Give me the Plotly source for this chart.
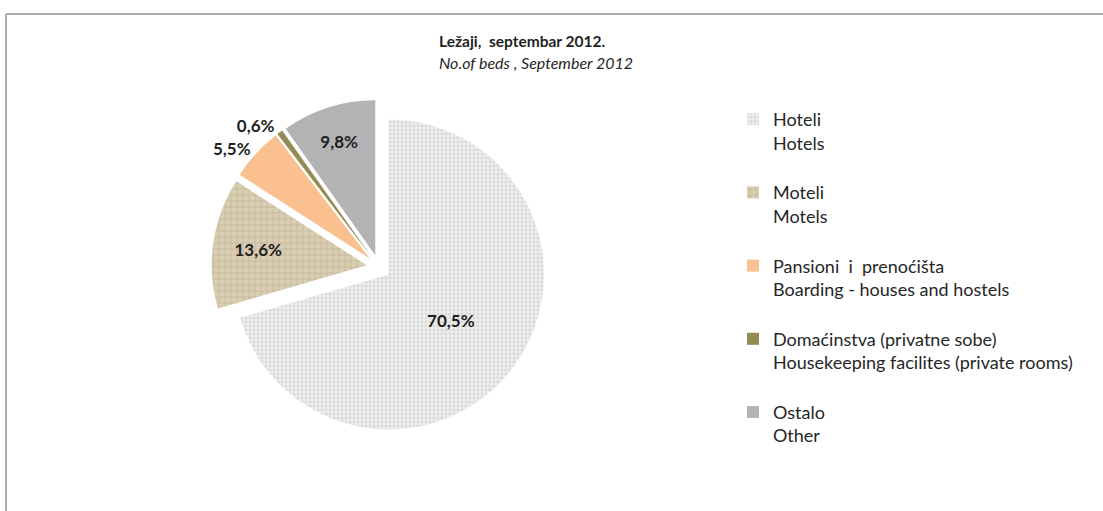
import plotly.graph_objects as go

labels_sr = ["Hoteli", "Moteli", "Pansioni  i  prenoćišta", "Domaćinstva (privatne sobe)", "Ostalo"]
labels_en = ["Hotels", "Motels", "Boarding - houses and hostels", "Housekeeping facilites (private rooms)", "Other"]
values = [70.5, 13.6, 5.5, 0.6, 9.8]
colors = ["#ececec", "#d9ceb4", "#fac090", "#948a54", "#b3b3b5"]
fgcolors = ["#d6d6d6", "#bfb08e", "#fac090", "#948a54", "#b3b3b5"]
shapes_pat = [".", "+", "", "", ""]
text_pos = ["inside", "inside", "outside", "outside", "inside"]

W, H = 1103, 511
cx, cy, R, pull = 379, 267, 155, 0.08
half = R * (1 + pull)

FONT = "Lato, 'Open Sans', sans-serif"
legend_names = [f"{a}<br>{b}<br> " for a, b in zip(labels_sr, labels_en)]
texts = [f"{v:.1f}%".replace(".", ",") for v in values]

fig = go.Figure(go.Pie(
    labels=legend_names,
    values=values,
    text=texts,
    textinfo="text",
    textposition=text_pos,
    insidetextorientation="horizontal",
    sort=False,
    direction="clockwise",
    rotation=0,
    pull=[pull] * len(values),
    marker=dict(colors=colors, line=dict(width=0),
                pattern=dict(shape=shapes_pat, fgcolor=fgcolors, bgcolor=colors,
                             size=[4, 6, 8, 8, 8], solidity=[0.3, 0.2, 0.3, 0.3, 0.3])),
    textfont=dict(family=FONT, size=17, color="#1f1f1f", weight="bold"),
    outsidetextfont=dict(family=FONT, size=17, color="#1f1f1f", weight="bold"),
    hoverinfo="skip",
    domain=dict(x=[(cx - half) / W, (cx + half) / W], y=[1 - (cy + half) / H, 1 - (cy - half) / H]),
))

fig.update_layout(
    width=W, height=H,
    margin=dict(l=0, r=0, t=0, b=0),
    paper_bgcolor="white",
    font=dict(family=FONT, color="#262626"),
    showlegend=True,
    legend=dict(x=733 / W, y=1 - 101 / H, xanchor="left", yanchor="top",
                font=dict(size=18, color="#262626"), valign="top",
                itemwidth=30, bgcolor="rgba(0,0,0,0)"),
    annotations=[
        dict(text="<b>Ležaji,  septembar 2012.</b>", x=437 / W, y=1 - 41 / H, xref="paper", yref="paper",
             xanchor="left", yanchor="middle", showarrow=False, font=dict(size=15.5, color="#1f1f1f")),
        dict(text="<i>No.of beds , September 2012</i>", x=437 / W, y=1 - 62 / H, xref="paper", yref="paper",
             xanchor="left", yanchor="middle", showarrow=False, font=dict(size=16, color="#1f1f1f")),
    ],
    shapes=[
        dict(type="line", xref="paper", yref="paper", x0=6 / W, x1=1.0, y0=1 - 14 / H, y1=1 - 14 / H,
             line=dict(color="#acacac", width=2)),
        dict(type="line", xref="paper", yref="paper", x0=6 / W, x1=6 / W, y0=0, y1=1 - 14 / H,
             line=dict(color="#acacac", width=2)),
    ],
)

fig.write_html("out.html", config={"displayModeBar": False},
               post_script="document.body.style.margin='0';document.body.style.overflow='hidden';")
